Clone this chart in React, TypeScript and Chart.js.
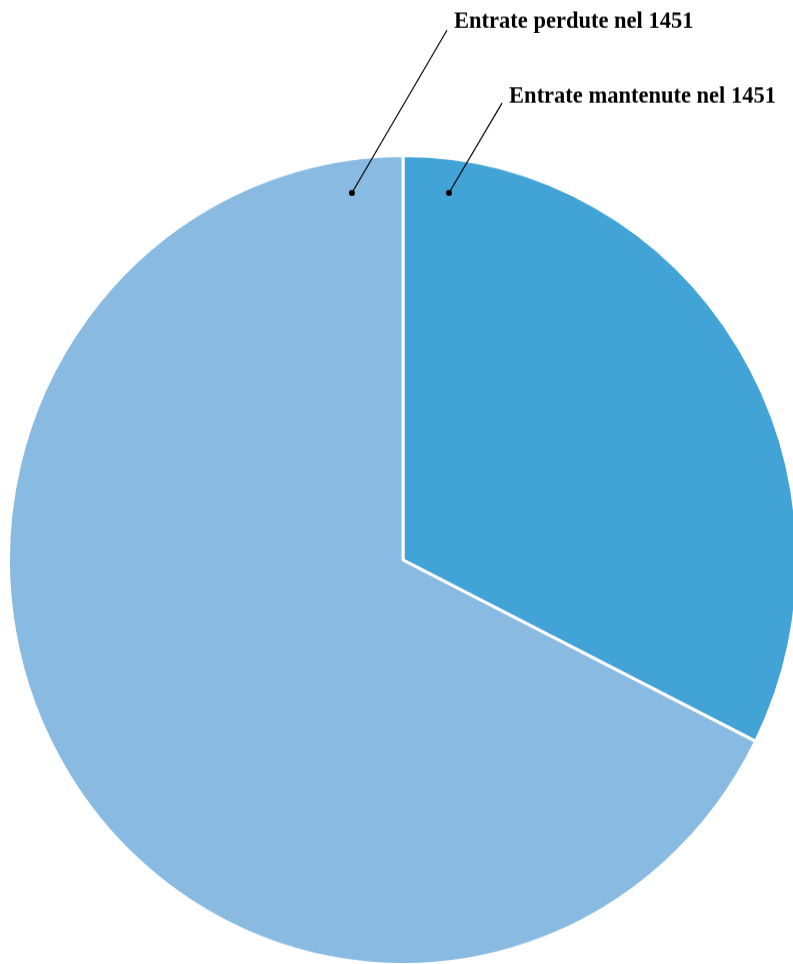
import React, { useEffect, useRef } from "react";
import { Chart, registerables } from "chart.js";

Chart.register(...registerables);

const categories: string[] = ["Entrate mantenute nel 1451", "Entrate perdute nel 1451"];
const shares: number[] = [32.4, 67.6];
const sliceColors: string[] = ["#42A3D6", "#89BBE2"];

// callout annotations, in units of the visible pie radius, relative to the centre
const calloutIndex: number[] = [1, 0];
const calloutDotX: number[] = [-0.13, 0.117];
const calloutDotY: number[] = [-0.911, -0.911];
const calloutEndX: number[] = [0.112, 0.252];
const calloutEndY: number[] = [-1.315, -1.134];
const calloutTextX: number[] = [0.13, 0.27];
const calloutTextY: number[] = [-1.32, -1.136];

const BORDER = 3;
const STRETCH_Y = 1.0254;

const calloutPlugin = {
  id: "callouts",
  afterDraw(chart: any) {
    const meta = chart.getDatasetMeta(0);
    const arc = meta.data[0];
    if (!arc) return;
    const { x, y, outerRadius } = arc.getProps(["x", "y", "outerRadius"], true);
    const R = outerRadius - BORDER / 2;
    const ctx = chart.ctx as CanvasRenderingContext2D;
    ctx.save();
    ctx.strokeStyle = "#000";
    ctx.fillStyle = "#000";
    ctx.lineWidth = 1.2;
    ctx.font = "bold 22.5px 'Liberation Serif', 'DejaVu Serif', serif";
    ctx.textBaseline = "alphabetic";
    ctx.textAlign = "left";
    for (let i = 0; i < calloutIndex.length; i++) {
      const dx = x + calloutDotX[i] * R;
      const dy = y + calloutDotY[i] * R;
      const ex = x + calloutEndX[i] * R;
      const ey = y + calloutEndY[i] * R;
      ctx.beginPath();
      ctx.moveTo(dx, dy);
      ctx.lineTo(ex, ey);
      ctx.stroke();
      ctx.beginPath();
      ctx.arc(dx, dy, 3, 0, Math.PI * 2);
      ctx.fill();
      ctx.fillText(
        categories[calloutIndex[i]],
        x + calloutTextX[i] * R,
        y + calloutTextY[i] * R
      );
    }
    ctx.restore();
  },
};

export default function App() {
  const ref = useRef<HTMLCanvasElement | null>(null);
  useEffect(() => {
    if (!ref.current) return;
    const chart = new Chart(ref.current, {
      type: "pie",
      data: {
        labels: categories,
        datasets: [
          {
            data: shares,
            backgroundColor: sliceColors,
            borderColor: "#ffffff",
            borderWidth: BORDER,
          },
        ],
      },
      options: {
        responsive: false,
        animation: false,
        devicePixelRatio: 1,
        layout: { padding: { left: 7, right: 11, top: 164, bottom: 8 } },
        plugins: {
          legend: { display: false },
          tooltip: { enabled: false },
        },
      },
      plugins: [calloutPlugin],
    });
    return () => chart.destroy();
  }, []);
  return (
    <div
      style={{
        position: "fixed",
        left: 0,
        top: 0,
        width: 793,
        height: 964,
        overflow: "hidden",
        background: "#fff",
      }}
    >
      <canvas
        ref={ref}
        width={810}
        height={964}
        style={{
          display: "block",
          width: 810,
          height: 964,
          transform: `scaleY(${STRETCH_Y})`,
          transformOrigin: "0px 560px",
        }}
      />
    </div>
  );
}
